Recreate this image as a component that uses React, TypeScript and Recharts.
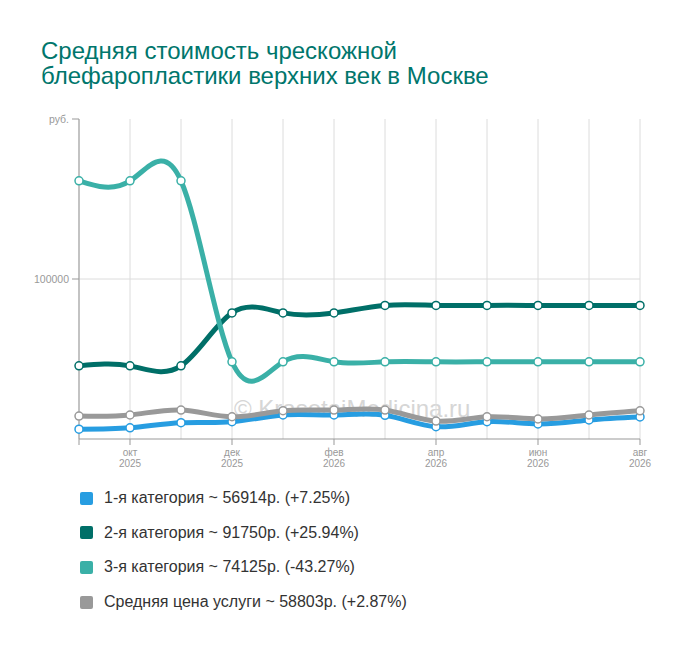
import React from 'react';
import { LineChart, Line, XAxis, YAxis, CartesianGrid } from 'recharts';

// месяцы и годы по оси X
const months = ['сен', 'окт', 'ноя', 'дек', 'янв', 'фев', 'мар', 'апр', 'май', 'июн', 'июл', 'авг'];
const years = ['2025', '2025', '2025', '2025', '2026', '2026', '2026', '2026', '2026', '2026', '2026', '2026'];
const shownMonths = ['окт', 'дек', 'фев', 'апр', 'июн', 'авг'];

// цены, руб.
const cat1 = [53067, 53500, 55100, 55400, 57500, 57500, 57400, 53850, 55400, 54700, 55950, 56914];
const cat2 = [72852, 72852, 72852, 89400, 89400, 89400, 91750, 91750, 91750, 91750, 91750, 91750];
const cat3 = [130666, 130666, 130666, 74125, 74125, 74125, 74125, 74125, 74125, 74125, 74125, 74125];
const avgPrice = [57163, 57500, 59050, 56950, 58850, 59050, 59050, 55600, 56950, 56250, 57500, 58803];

const yTicks = [100000, 150000];

const seriesKeys = ['c1', 'c2', 'c3', 'avg'];
const seriesColors = ['#279de1', '#006f68', '#3ab0a7', '#999999'];
const legendLabels = [
  '1-я категория ~ 56914р. (+7.25%)',
  '2-я категория ~ 91750р. (+25.94%)',
  '3-я категория ~ 74125р. (-43.27%)',
  'Средняя цена услуги ~ 58803р. (+2.87%)',
];

const data = months.map((m, i) => ({
  key: `${m} ${years[i]}`,
  c1: cat1[i],
  c2: cat2[i],
  c3: cat3[i],
  avg: avgPrice[i],
}));

const MonthTick = (props: any) => {
  const { x, y } = props;
  const i = props.index ?? props.payload?.index ?? 0;
  const show = shownMonths.includes(months[i]);
  return (
    <g>
      {(show || i === 0) && <line x1={x} x2={x} y1={y} y2={y + 6} stroke="#999" />}
      {show && (
        <text x={x} y={y} textAnchor="middle" fontSize={10} fill="#999">
          <tspan x={x} dy={17}>{months[i]}</tspan>
          <tspan x={x} dy={11}>{years[i]}</tspan>
        </text>
      )}
    </g>
  );
};

const PriceTick = (props: any) => {
  const { x, y, payload } = props;
  const v = payload?.value;
  return (
    <text x={x} y={y} dy={3.5} textAnchor="end" fontSize={10.5} fill="#999">
      {v === 150000 ? 'руб.' : String(v)}
    </text>
  );
};

export default function App() {
  return (
    <div
      style={{
        position: 'absolute',
        left: 0,
        top: 0,
        width: 700,
        height: 650,
        background: '#fff',
        fontFamily: '"Liberation Sans", Arial, sans-serif',
      }}
    >
      <div
        style={{
          position: 'absolute',
          left: 41,
          top: 38,
          fontSize: 24,
          lineHeight: '25px',
          color: '#00766c',
        }}
      >
        Средняя стоимость чрескожной
        <br />
        блефаропластики верхних век в Москве
      </div>

      <div style={{ position: 'absolute', left: 234, top: 395, fontSize: 24, color: '#d6d6d6' }}>
        © KrasotaiMedicina.ru
      </div>

      <div style={{ position: 'absolute', left: 0, top: 0 }}>
        <LineChart width={700} height={650} data={data} margin={{ top: 119, right: 60, bottom: 181, left: 19 }}>
          <CartesianGrid stroke="#dcdcdc" horizontalValues={[100000]} />
          <XAxis
            dataKey="key"
            interval={0}
            height={30}
            tickLine={false}
            tickSize={0}
            tickMargin={0}
            axisLine={{ stroke: '#999' }}
            tick={<MonthTick />}
          />
          <YAxis
            width={60}
            domain={[50000, 150000]}
            ticks={yTicks}
            tick={<PriceTick />}
            tickSize={7}
            tickMargin={3}
            axisLine={{ stroke: '#999' }}
            tickLine={{ stroke: '#999' }}
          />
          {seriesKeys.map((k, i) => (
            <Line
              key={k}
              type="natural"
              dataKey={k}
              stroke={seriesColors[i]}
              strokeWidth={5}
              dot={{ r: 4, fill: '#fff', stroke: seriesColors[i], strokeWidth: 1.5 }}
              activeDot={false}
              isAnimationActive={false}
            />
          ))}
        </LineChart>
      </div>

      {legendLabels.map((label, i) => (
        <div
          key={label}
          style={{
            position: 'absolute',
            left: 80,
            top: 488 + i * 34.7,
            height: 20,
            display: 'flex',
            alignItems: 'center',
            fontSize: 16,
            color: '#333',
          }}
        >
          <span
            style={{
              display: 'inline-block',
              width: 13,
              height: 13,
              borderRadius: 2,
              background: seriesColors[i],
              marginRight: 11,
            }}
          />
          {label}
        </div>
      ))}
    </div>
  );
}
